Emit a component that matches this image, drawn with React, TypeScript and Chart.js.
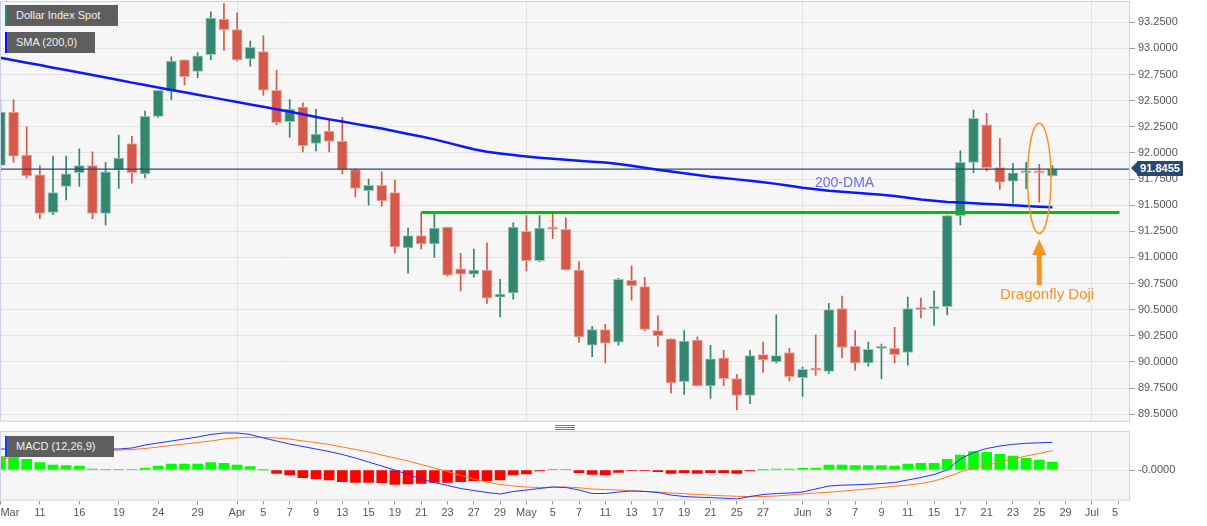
import React, { useEffect, useRef } from 'react';
import { Chart, registerables } from 'chart.js';

Chart.register(...registerables);

// ---- Daily candles, Mar 8 .. Jun 28 (trading-day index 0..80) ----
const OPEN = [91.88, 92.39, 91.98, 91.79, 91.43, 91.68, 91.81, 91.88, 91.42, 91.84,
  92.09, 91.80, 92.35, 92.59, 92.89, 92.78, 92.94, 93.28, 93.18, 92.90,
  92.97, 92.60, 92.30, 92.44, 92.09, 92.21, 92.11, 91.84, 91.64, 91.69,
  91.62, 91.09, 91.21, 91.13, 91.29, 90.89, 90.84, 90.88, 90.62, 90.66,
  91.25, 90.97, 91.29, 91.27, 90.88, 90.16, 90.31, 90.19, 90.78, 90.72,
  90.30, 90.22, 89.81, 90.21, 89.77, 90.04, 89.84, 89.68, 90.07, 90.00,
  90.09, 89.85, 89.94, 89.91, 90.51, 90.15, 89.99, 90.13, 90.13, 90.09,
  90.51, 90.51, 90.53, 91.40, 91.91, 92.27, 91.86, 91.73, 91.81, 91.82,
  91.78];
const HIGH = [92.51, 92.51, 92.25, 91.88, 91.97, 91.97, 92.04, 92.01, 91.91, 92.17,
  92.16, 92.40, 92.60, 92.92, 92.89, 92.96, 93.35, 93.43, 93.34, 93.07,
  93.12, 92.79, 92.51, 92.48, 92.42, 92.33, 92.34, 91.85, 91.75, 91.82,
  91.74, 91.28, 91.43, 91.42, 91.29, 91.04, 91.08, 91.14, 90.79, 91.33,
  91.40, 91.40, 91.42, 91.38, 90.96, 90.34, 90.36, 90.80, 90.92, 90.81,
  90.44, 90.22, 90.30, 90.24, 90.16, 90.11, 89.88, 90.11, 90.19, 90.45,
  90.13, 89.95, 90.26, 90.56, 90.63, 90.30, 90.19, 90.17, 90.33, 90.62,
  90.61, 90.68, 91.40, 92.02, 92.41, 92.38, 92.14, 91.90, 91.91, 91.89,
  91.88];
const LOW = [91.82, 91.91, 91.76, 91.37, 91.41, 91.55, 91.68, 91.37, 91.31, 91.66,
  91.71, 91.76, 92.34, 92.51, 92.65, 92.72, 92.89, 92.98, 92.88, 92.83,
  92.55, 92.27, 92.15, 92.01, 92.02, 92.01, 91.80, 91.58, 91.50, 91.49,
  91.04, 90.85, 91.08, 91.00, 90.82, 90.68, 90.81, 90.56, 90.43, 90.60,
  90.87, 90.96, 91.18, 90.88, 90.19, 90.05, 89.99, 90.16, 90.59, 90.30,
  90.15, 89.70, 89.69, 89.77, 89.65, 89.77, 89.54, 89.60, 89.90, 89.99,
  89.82, 89.67, 89.87, 89.89, 90.04, 89.92, 89.96, 89.84, 89.99, 89.97,
  90.42, 90.35, 90.45, 91.31, 91.81, 91.83, 91.65, 91.52, 91.66, 91.53,
  91.78];
const CLOSE = [92.39, 91.97, 91.78, 91.42, 91.62, 91.80, 91.88, 91.42, 91.82, 91.95,
  91.81, 92.35, 92.60, 92.88, 92.73, 92.93, 93.29, 93.18, 92.89, 93.01,
  92.60, 92.29, 92.42, 92.07, 92.18, 92.11, 91.84, 91.66, 91.69, 91.54,
  91.10, 91.21, 91.13, 91.28, 90.83, 90.84, 90.88, 90.61, 90.65, 91.29,
  90.97, 91.28, 91.27, 90.88, 90.24, 90.31, 90.18, 90.79, 90.73, 90.31,
  90.25, 89.80, 90.20, 89.77, 90.03, 89.84, 89.68, 90.06, 90.02, 90.06,
  89.86, 89.93, 89.92, 90.50, 90.14, 89.99, 90.12, 90.14, 90.07, 90.51,
  90.50, 90.52, 91.40, 91.91, 92.33, 91.86, 91.72, 91.81, 91.82, 91.81,
  91.8455];

// 200-day SMA
const SMA_200 = [92.911, 92.887, 92.864, 92.841, 92.816, 92.793, 92.769, 92.746, 92.722, 92.698,
  92.673, 92.650, 92.626, 92.602, 92.580, 92.557, 92.534, 92.510, 92.487, 92.464,
  92.441, 92.418, 92.395, 92.370, 92.344, 92.321, 92.300, 92.278, 92.256, 92.234,
  92.207, 92.182, 92.157, 92.130, 92.099, 92.067, 92.036, 92.011, 91.995, 91.980,
  91.967, 91.955, 91.944, 91.934, 91.925, 91.916, 91.908, 91.894, 91.877, 91.859,
  91.840, 91.822, 91.806, 91.789, 91.773, 91.760, 91.747, 91.734, 91.720, 91.704,
  91.685, 91.667, 91.653, 91.639, 91.628, 91.619, 91.609, 91.599, 91.588, 91.572,
  91.555, 91.542, 91.531, 91.525, 91.518, 91.511, 91.506, 91.499, 91.492, 91.486,
  91.480];

// MACD (12,26,9)
const MACD_LINE = [0.21, 0.21, 0.20, 0.19, 0.19, 0.20, 0.20, 0.20, 0.21, 0.21,
  0.22, 0.25, 0.27, 0.29, 0.31, 0.33, 0.355, 0.37, 0.37, 0.355,
  0.32, 0.29, 0.26, 0.235, 0.21, 0.185, 0.155, 0.12, 0.08, 0.04,
  0.0, -0.045, -0.09, -0.125, -0.155, -0.185, -0.205, -0.225, -0.24, -0.215,
  -0.2, -0.185, -0.17, -0.175, -0.2, -0.235, -0.235, -0.22, -0.21, -0.215,
  -0.225, -0.25, -0.265, -0.272, -0.276, -0.282, -0.29, -0.265, -0.245, -0.235,
  -0.23, -0.22, -0.19, -0.16, -0.152, -0.148, -0.143, -0.135, -0.125, -0.1,
  -0.075, -0.045, 0.0, 0.11, 0.175, 0.215, 0.24, 0.257, 0.267, 0.272,
  0.277];
const SIGNAL_LINE = [0.11, 0.125, 0.14, 0.15, 0.16, 0.17, 0.18, 0.19, 0.197, 0.2,
  0.205, 0.215, 0.23, 0.245, 0.26, 0.275, 0.29, 0.31, 0.322, 0.327,
  0.327, 0.32, 0.31, 0.29, 0.275, 0.255, 0.23, 0.205, 0.18, 0.15,
  0.12, 0.09, 0.055, 0.02, -0.015, -0.055, -0.09, -0.12, -0.145, -0.16,
  -0.17, -0.175, -0.172, -0.17, -0.178, -0.19, -0.195, -0.2, -0.207, -0.213,
  -0.22, -0.23, -0.237, -0.245, -0.252, -0.258, -0.263, -0.266, -0.265, -0.26,
  -0.25, -0.24, -0.23, -0.222, -0.212, -0.2, -0.188, -0.175, -0.163, -0.15,
  -0.135, -0.11, -0.07, -0.02, 0.02, 0.045, 0.08, 0.11, 0.14, 0.165,
  0.193];
const HISTOGRAM = [0.133, 0.123, 0.107, 0.073, 0.05, 0.043, 0.04, 0.01, 0.007, 0.007,
  0.003, 0.017, 0.04, 0.06, 0.06, 0.06, 0.073, 0.067, 0.05, 0.033,
  0.002, -0.033, -0.05, -0.077, -0.09, -0.1, -0.117, -0.123, -0.123, -0.127,
  -0.143, -0.14, -0.133, -0.123, -0.123, -0.117, -0.107, -0.107, -0.1, -0.05,
  -0.04, -0.01, 0.003, 0.003, -0.027, -0.043, -0.05, -0.023, -0.007, -0.007,
  -0.017, -0.033, -0.027, -0.033, -0.027, -0.027, -0.033, -0.01, 0.002, 0.01,
  0.01, 0.017, 0.017, 0.05, 0.05, 0.043, 0.043, 0.043, 0.04, 0.06,
  0.067, 0.067, 0.107, 0.15, 0.183, 0.177, 0.157, 0.14, 0.117, 0.1,
  0.08];

// x-axis ticks (trading-day index) and their labels
const TICK_INDEX = [0, 3, 6, 9, 12, 15, 18, 20, 22, 24, 26, 28, 30, 32, 34, 36, 38, 40, 42, 44,
  46, 48, 50, 52, 54, 56, 58, 61, 63, 65, 67, 69, 71, 73, 75, 77, 79, 81, 83, 85];
const TICK_LABELS = ['Mar', '11', '16', '19', '24', '29', 'Apr', '5', '7', '9', '13', '15', '19', '21', '23', '27', '29', 'May', '5', '7',
  '11', '13', '17', '19', '21', '25', '27', 'Jun', '3', '7', '9', '11', '15', '17', '21', '23', '25', '29', 'Jul', '5'];
const MONTH_START_INDEX = [18, 40, 61, 83];
const PRICE_TICKS = [89.5, 89.75, 90, 90.25, 90.5, 90.75, 91, 91.25, 91.5, 91.75, 92, 92.25, 92.5, 92.75, 93, 93.25];
const MACD_TICKS = [0];
const MACD_ZERO_LABEL = '-0.0000';

const LAST_PRICE = 91.8455;
const LAST_PRICE_LABEL = '91.8455';
const SUPPORT_LEVEL = 91.43;
const SUPPORT_START = 32;
const SUPPORT_END = 85.1;

// Dragonfly doji annotation (data units)
const DOJI_INDEX = 79;
const RING_CENTER = 91.757;
const RING_HALF_HEIGHT = 0.527;
const RING_HALF_WIDTH = 0.89;
const ARROW_TIP = 91.173;
const ARROW_HEAD_BASE = 91.023;
const ARROW_TAIL = 90.736;

// axis ranges
const X_MIN = -0.03;
const X_MAX = 85.9;
const PRICE_MIN = 89.428;
const PRICE_MAX = 93.454;
const MACD_MIN = -0.305;
const MACD_MAX = 0.39;

const FONT = '"Liberation Sans", Arial, sans-serif';
const GREEN = '#33866f';
const GREEN_EDGE = '#98c6b8';
const RED = '#d4594a';
const RED_EDGE = '#eba79d';
const GRID = '#e3e3e3';
const FRAME = '#ccd3e6';
const ORANGE = '#f7931e';

const panelFrame = {
  id: 'panelFrame',
  beforeDraw(chart: any) {
    const { ctx, chartArea } = chart;
    ctx.save();
    ctx.fillStyle = '#f6f6f6';
    ctx.fillRect(chartArea.left, chartArea.top, chartArea.right - chartArea.left, chartArea.bottom - chartArea.top);
    ctx.restore();
  },
  afterDraw(chart: any) {
    const { ctx, chartArea } = chart;
    ctx.save();
    ctx.strokeStyle = FRAME;
    ctx.lineWidth = 1;
    ctx.strokeRect(chartArea.left + 0.5, chartArea.top + 0.5, chartArea.right - chartArea.left - 1, chartArea.bottom - chartArea.top - 1);
    ctx.restore();
  },
};

const dojiMarker = {
  id: 'dojiMarker',
  afterDatasetsDraw(chart: any) {
    const { ctx, scales } = chart;
    const xs = scales.x;
    const ys = scales.y;
    const cx = xs.getPixelForValue(DOJI_INDEX);
    const rx = xs.getPixelForValue(DOJI_INDEX + RING_HALF_WIDTH) - cx;
    const cy = ys.getPixelForValue(RING_CENTER);
    const ry = ys.getPixelForValue(RING_CENTER - RING_HALF_HEIGHT) - cy;
    ctx.save();
    ctx.strokeStyle = ORANGE;
    ctx.lineWidth = 1.5;
    ctx.beginPath();
    ctx.ellipse(cx, cy, rx, ry, 0, 0, Math.PI * 2);
    ctx.stroke();
    const tip = ys.getPixelForValue(ARROW_TIP);
    const base = ys.getPixelForValue(ARROW_HEAD_BASE);
    const tail = ys.getPixelForValue(ARROW_TAIL);
    ctx.fillStyle = ORANGE;
    ctx.fillRect(cx - 2.5, base - 0.5, 5, tail - base + 0.5);
    ctx.beginPath();
    ctx.moveTo(cx, tip);
    ctx.lineTo(cx - 7, base);
    ctx.lineTo(cx + 7, base);
    ctx.closePath();
    ctx.fill();
    ctx.restore();
  },
};

const legendBox = (left: number, top: number, width: number, accent: string): React.CSSProperties => ({
  position: 'absolute', left, top, width, height: 21, boxSizing: 'border-box',
  background: '#5e5e5e', borderLeft: `2px solid ${accent}`, color: '#f0f0f0',
  fontSize: 11, lineHeight: '21px', paddingLeft: 9, whiteSpace: 'nowrap', fontFamily: FONT,
});

export default function App() {
  const mainRef = useRef<HTMLCanvasElement>(null);
  const macdRef = useRef<HTMLCanvasElement>(null);

  useEffect(() => {
    document.body.style.margin = '0';
    Chart.defaults.font.family = FONT;
    const idx = OPEN.map((_, i) => i);
    const up = idx.map((i) => CLOSE[i] >= OPEN[i]);

    const main = new Chart(mainRef.current as HTMLCanvasElement, {
      type: 'bar',
      data: {
        datasets: [
          { type: 'line', label: 'SMA (200,0)', data: SMA_200.map((v, i) => ({ x: i, y: v })), borderColor: '#0a18ff', borderWidth: 2.5, pointRadius: 0, order: 0 } as any,
          { type: 'line', label: 'support', data: [{ x: SUPPORT_START, y: SUPPORT_LEVEL }, { x: SUPPORT_END, y: SUPPORT_LEVEL }], borderColor: '#00c300', borderWidth: 3, pointRadius: 0, order: 0 } as any,
          { type: 'line', label: 'last', data: [{ x: X_MIN, y: LAST_PRICE }, { x: X_MAX, y: LAST_PRICE }], borderColor: '#2b4870', borderWidth: 1.2, pointRadius: 0, order: 0 } as any,
          {
            type: 'bar', label: 'body', data: idx.map((i) => ({ x: i, y: [OPEN[i], CLOSE[i]] })),
            backgroundColor: up.map((u) => (u ? GREEN : RED)), borderColor: up.map((u) => (u ? GREEN_EDGE : RED_EDGE)),
            borderWidth: 1, borderSkipped: false, barThickness: 10, minBarLength: 2, grouped: false, order: 1,
          } as any,
          {
            type: 'bar', label: 'wick', data: idx.map((i) => ({ x: i, y: [LOW[i], HIGH[i]] })),
            backgroundColor: up.map((u) => (u ? GREEN : RED)), barThickness: 1, grouped: false, order: 2,
          } as any,
        ],
      },
      options: {
        responsive: false, animation: false, events: [],
        layout: { padding: { top: 1, bottom: 1.3, left: 0, right: 0 } },
        plugins: { legend: { display: false }, tooltip: { enabled: false } },
        scales: {
          x: {
            type: 'linear', min: X_MIN, max: X_MAX, offset: false,
            afterBuildTicks: (s: any) => { s.ticks = MONTH_START_INDEX.map((v) => ({ value: v })); },
            afterFit: (s: any) => { s.height = 0; s.paddingLeft = 0; s.paddingRight = 0; },
            ticks: { display: false },
            grid: { color: GRID, drawTicks: false, offset: false },
            border: { display: false },
          },
          y: {
            type: 'linear', position: 'right', min: PRICE_MIN, max: PRICE_MAX, beginAtZero: false,
            afterBuildTicks: (s: any) => { s.ticks = PRICE_TICKS.map((v) => ({ value: v })); },
            afterFit: (s: any) => { s.width = 77; s.paddingTop = 0; s.paddingBottom = 0; },
            ticks: { color: '#555', font: { size: 11 }, padding: 3, callback: (v: any) => Number(v).toFixed(4) },
            grid: { color: GRID, tickColor: '#999', tickLength: 5 },
            border: { display: false },
          },
        },
      } as any,
      plugins: [panelFrame, dojiMarker],
    });

    const macd = new Chart(macdRef.current as HTMLCanvasElement, {
      type: 'bar',
      data: {
        datasets: [
          { type: 'line', label: 'MACD', data: MACD_LINE.map((v, i) => ({ x: i, y: v })), borderColor: '#2233ff', borderWidth: 1, pointRadius: 0, order: 0 } as any,
          { type: 'line', label: 'Signal', data: SIGNAL_LINE.map((v, i) => ({ x: i, y: v })), borderColor: '#ff7a1f', borderWidth: 1, pointRadius: 0, order: 0 } as any,
          {
            type: 'bar', label: 'Histogram', data: HISTOGRAM.map((v, i) => ({ x: i, y: v })),
            backgroundColor: HISTOGRAM.map((v) => (v >= 0 ? '#00ff00' : '#ff0000')), barThickness: 10, grouped: false, order: 1,
          } as any,
        ],
      },
      options: {
        responsive: false, animation: false, events: [],
        layout: { padding: { top: 6, bottom: 0, left: 0, right: 0 } },
        plugins: { legend: { display: false }, tooltip: { enabled: false } },
        scales: {
          x: {
            type: 'linear', min: X_MIN, max: X_MAX, offset: false,
            afterBuildTicks: (s: any) => { s.ticks = TICK_INDEX.map((v) => ({ value: v })); },
            afterFit: (s: any) => { s.height = 25.5; s.paddingLeft = 0; s.paddingRight = 0; },
            ticks: {
              autoSkip: false, maxRotation: 0, minRotation: 0, align: 'inner', padding: 2, color: '#555', font: { size: 11 },
              callback: (_v: any, i: number) => TICK_LABELS[i],
            },
            grid: {
              color: (c: any) => (c.tick && MONTH_START_INDEX.includes(c.tick.value) ? GRID : 'rgba(0,0,0,0)'),
              tickColor: '#999', tickLength: 4, offset: false,
            },
            border: { display: false },
          },
          y: {
            type: 'linear', position: 'right', min: MACD_MIN, max: MACD_MAX, beginAtZero: false,
            afterBuildTicks: (s: any) => { s.ticks = MACD_TICKS.map((v) => ({ value: v })); },
            afterFit: (s: any) => { s.width = 77; s.paddingTop = 0; s.paddingBottom = 0; },
            ticks: { color: '#555', font: { size: 11 }, padding: 3, callback: () => MACD_ZERO_LABEL },
            grid: { color: GRID, tickColor: '#999', tickLength: 5 },
            border: { display: false },
          },
        },
      } as any,
      plugins: [panelFrame],
    });

    return () => { main.destroy(); macd.destroy(); };
  }, []);

  return (
    <div style={{ position: 'relative', width: 1207, height: 526, background: '#ffffff', overflow: 'hidden', fontFamily: FONT }}>
      <canvas ref={mainRef} width={1207} height={423} style={{ position: 'absolute', left: 0, top: 0, width: 1207, height: 423 }} />
      <canvas ref={macdRef} width={1207} height={101} style={{ position: 'absolute', left: 0, top: 425, width: 1207, height: 101 }} />

      <div style={legendBox(5, 5, 113, '#2e8b6e')}>Dollar Index Spot</div>
      <div style={legendBox(5, 32, 90, '#1010ff')}>SMA (200,0)</div>
      <div style={legendBox(5, 436, 109, '#1a3cff')}>MACD (12,26,9)</div>

      <div style={{ position: 'absolute', left: 815, top: 173, fontSize: 14, lineHeight: '18px', color: '#6c6cf2', whiteSpace: 'nowrap' }}>200-DMA</div>
      <div style={{ position: 'absolute', left: 1000, top: 285, fontSize: 15, lineHeight: '18px', color: ORANGE, whiteSpace: 'nowrap' }}>Dragonfly Doji</div>

      <div style={{ position: 'absolute', left: 1131, top: 161, width: 0, height: 0, borderTop: '7.5px solid transparent', borderBottom: '7.5px solid transparent', borderRight: '7px solid #2b4870' }} />
      <div style={{ position: 'absolute', left: 1137, top: 161, width: 46, height: 15, background: '#2b4870', color: '#ffffff', fontSize: 11, fontWeight: 'bold', lineHeight: '15px', textAlign: 'center', borderRadius: 1 }}>{LAST_PRICE_LABEL}</div>

      <div style={{ position: 'absolute', left: 555, top: 425, width: 20, height: 1, background: '#777' }} />
      <div style={{ position: 'absolute', left: 555, top: 427, width: 20, height: 1, background: '#777' }} />
      <div style={{ position: 'absolute', left: 555, top: 429, width: 20, height: 1, background: '#777' }} />
    </div>
  );
}
